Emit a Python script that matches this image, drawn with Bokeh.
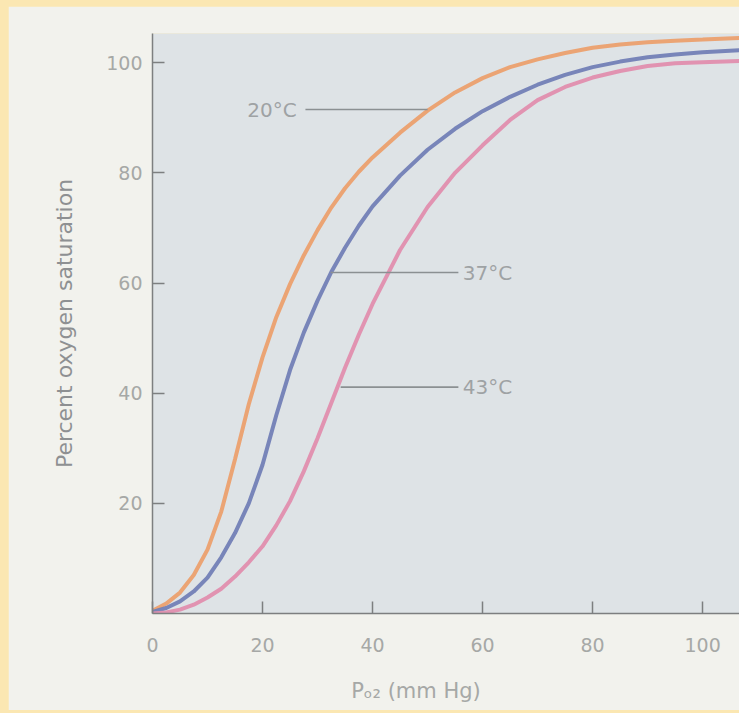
from bokeh.plotting import figure
from bokeh.models import ColumnDataSource, FixedTicker, GlobalInlineStyleSheet
from bokeh.core.properties import value
from bokeh.embed import file_html
from bokeh.resources import INLINE

# ---- data ----
po2 = [0, 2.5, 5, 7.5, 10, 12.5, 15, 17.5, 20, 22.5, 25, 27.5, 30, 32.5, 35,
       37.5, 40, 45, 50, 55, 60, 65, 70, 75, 80, 85, 90, 95, 100, 107]
sat_20c = [0.5, 1.8, 3.8, 7.0, 11.6, 18.5, 28.0, 38.0, 46.5, 53.8, 59.8, 65.0, 69.6,
           73.7, 77.2, 80.2, 82.8, 87.3, 91.3, 94.6, 97.2, 99.2, 100.6, 101.75, 102.7,
           103.3, 103.7, 104.0, 104.2, 104.5]
sat_37c = [0.3, 1.0, 2.2, 4.0, 6.5, 10.2, 14.6, 20.0, 27.0, 36.0, 44.2, 51.0, 56.8,
           62.0, 66.4, 70.4, 73.9, 79.5, 84.2, 88.0, 91.2, 93.8, 96.0, 97.8, 99.2,
           100.2, 101.0, 101.5, 101.9, 102.3]
sat_43c = [0.0, 0.2, 0.7, 1.6, 2.9, 4.5, 6.7, 9.3, 12.2, 16.0, 20.4, 25.8, 31.8,
           38.2, 44.6, 50.6, 56.2, 66.0, 73.8, 80.0, 85.0, 89.6, 93.2, 95.6, 97.3,
           98.5, 99.4, 99.9, 100.1, 100.3]

x_ticks = [0, 20, 40, 60, 80, 100]
y_ticks = [20, 40, 60, 80, 100]

label_text = ["20°C", "37°C", "43°C"]
label_y = [91.5, 61.9, 41.1]
leader_x0 = [27.8, 32.4, 34.2]
leader_x1 = [50.0, 55.6, 55.6]
text_x = [26.2, 56.4, 56.4]
text_align = ["right", "left", "left"]

FONT = "DejaVu Sans"
TICK_COLOR = "#a6a8a6"
TEXT_COLOR = "#9ea2a4"

p = figure(width=731, height=704, output_backend="svg", toolbar_location=None,
           x_range=(0, 106.7), y_range=(0, 105.3),
           min_border_left=144, min_border_right=0, min_border_top=27,
           min_border_bottom=97)
p.margin = (6, 0, 3, 8)
p.stylesheets = [GlobalInlineStyleSheet(css="body { background: #fbe7b2; }")]

p.background_fill_color = "#dee3e6"
p.border_fill_color = "#f2f2ed"
p.outline_line_color = None
p.grid.visible = False

# axes
for ax in (p.xaxis[0], p.yaxis[0]):
    ax.axis_line_color = "#7d7f80"
    ax.axis_line_width = 1.5
    ax.major_tick_line_color = "#7d7f80"
    ax.major_tick_line_width = 1.5
    ax.major_tick_in = 12
    ax.major_tick_out = 0
    ax.minor_tick_line_color = None
    ax.major_label_text_font = FONT
    ax.major_label_text_font_size = "19px"
    ax.major_label_text_color = TICK_COLOR
    ax.axis_label_text_font = FONT
    ax.axis_label_text_font_style = "normal"

p.xaxis.ticker = FixedTicker(ticks=x_ticks)
p.yaxis.ticker = FixedTicker(ticks=y_ticks)
p.xaxis.major_label_standoff = 24
p.yaxis.major_label_standoff = 10

p.yaxis.axis_label = "Percent oxygen saturation"
p.yaxis.axis_label_text_font_size = "22px"
p.yaxis.axis_label_text_color = "#8e9092"
p.yaxis.axis_label_standoff = 26

# x axis title: P subscript O2; trailing no-break spaces shift it left of centre
p.xaxis.axis_label = "Pₒ₂ (mm Hg)" + "\u00a0" * 9
p.xaxis.axis_label_text_font_size = "21px"
p.xaxis.axis_label_text_color = TICK_COLOR
p.xaxis.axis_label_standoff = 24

# curves
p.line(po2, sat_20c, line_color="#eba06e", line_width=4, line_alpha=0.95)
p.line(po2, sat_37c, line_color="#7280b6", line_width=4, line_alpha=0.95)
p.line(po2, sat_43c, line_color="#e08eae", line_width=4, line_alpha=0.95)

# leader lines and curve labels
src = ColumnDataSource(dict(x0=leader_x0, x1=leader_x1, y=label_y,
                            tx=text_x, text=label_text, align=text_align))
p.segment(x0="x0", y0="y", x1="x1", y1="y", source=src,
          line_color="#8b9092", line_width=1.6)
p.text(x="tx", y="y", text="text", source=src, text_align="align",
       text_baseline="middle", text_font=value(FONT), text_font_size="20px",
       text_color=TEXT_COLOR)

open("out.html", "w").write(file_html(p, INLINE))
